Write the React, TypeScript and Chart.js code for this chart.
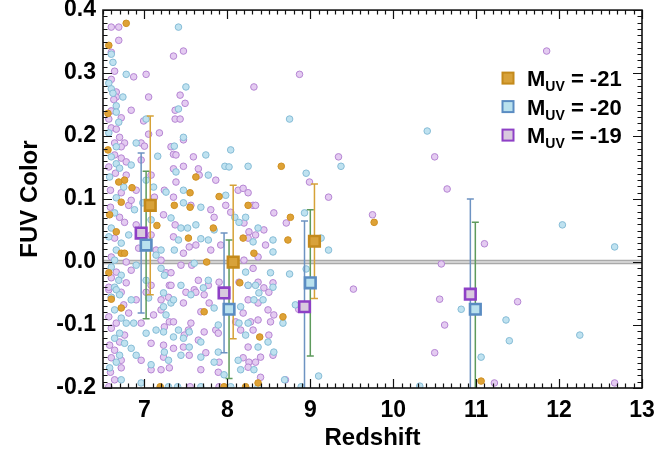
import { useEffect, useRef } from "react";
import { Chart, registerables } from "chart.js";

Chart.register(...registerables);

// Axis extents and tick labels
const xRange = [6.5, 13];
const yRange = [-0.2, 0.4];
const xTickLabels = [7, 8, 9, 10, 11, 12, 13];
const yTickLabels = [-0.2, -0.1, 0.0, 0.1, 0.2, 0.3, 0.4];
const zeroLevel = 0;

// Magnitude bins shown in the legend
const magnitudes = ["-21", "-20", "-19"];

// Individual galaxies: [redshift, FUV colour]
const galaxies21: [number, number][] = [
  [6.78, 0.379], [6.57, 0.344], [6.76, 0.13], [6.69, 0.127], [6.72, 0.095], [6.66, 0.048],
  [6.72, 0.014], [6.76, 0.014], [6.57, -0.017], [6.6, -0.059], [6.72, -0.073], [8.65, 0.152],
  [7.62, 0.135], [7.55, 0.11], [7.36, 0.09], [7.55, 0.087], [7.53, 0.038], [7.83, 0.054],
  [7.75, 0.0], [8.25, 0.09], [8.19, 0.038], [8.32, 0.014], [8.73, 0.035], [8.76, 0.071],
  [8.15, -0.033], [7.72, -0.079], [8.67, -0.087], [8.39, -0.119], [7.19, -0.198], [7.96, -0.198],
  [8.22, -0.198], [8.37, -0.192], [9.77, 0.063], [11.06, -0.189], [6.56, 0.236], [6.56, 0.178],
  [6.58, 0.075], [6.85, 0.118], [7.15, 0.058], [7.9, 0.104],
];

const galaxies20: [number, number][] = [
  [7.41, 0.373], [6.6, 0.33], [6.78, 0.298], [6.57, 0.284], [7.5, 0.278], [6.6, 0.275],
  [6.62, 0.268], [6.66, 0.248], [6.66, 0.238], [7.41, 0.243], [6.69, 0.222], [7.02, 0.227],
  [8.75, 0.227], [6.57, 0.205], [7.47, 0.198], [6.9, 0.189], [7.36, 0.184], [6.66, 0.183],
  [6.6, 0.167], [6.66, 0.156], [6.7, 0.149], [6.58, 0.135], [6.75, 0.119], [6.66, 0.102],
  [6.64, 0.078], [6.6, 0.054], [6.57, 0.04], [6.72, 0.03], [6.66, 0.019], [6.64, 0.003],
  [6.6, -0.008], [6.72, -0.021], [6.69, -0.029], [6.64, -0.04], [6.6, -0.056],
  [7.97, 0.152], [8.02, 0.151], [8.25, 0.152], [7.38, 0.143], [7.77, 0.138], [7.26, 0.111],
  [7.47, 0.114], [7.47, 0.094], [7.68, 0.087], [7.11, 0.119], [7.32, 0.07], [7.44, 0.054],
  [7.52, 0.054], [7.41, 0.035], [7.36, 0.019], [7.68, 0.037], [7.84, 0.051], [7.77, 0.035],
  [7.6, -0.002], [7.24, -0.021], [7.2, -0.01], [7.44, -0.037], [7.77, -0.029], [7.23, -0.049],
  [7.05, -0.057], [8.22, 0.071], [8.09, 0.071], [8.14, 0.063], [8.37, 0.054], [8.31, 0.032],
  [8.55, 0.016], [8.55, 0.035], [8.75, -0.019], [8.52, -0.017], [8.22, -0.016], [8.25, -0.037],
  [8.38, -0.049], [6.66, -0.044], [6.7, -0.052], [6.64, -0.076], [6.72, -0.089], [6.78, -0.097],
  [6.87, -0.097], [6.7, -0.113], [6.64, -0.121], [6.76, -0.129], [6.84, -0.137], [6.7, -0.148],
  [6.66, -0.159], [6.58, -0.168], [6.72, -0.187], [7.23, -0.071], [7.32, -0.065], [7.26, -0.084],
  [7.23, -0.111], [7.41, -0.108], [7.54, -0.111], [7.35, -0.119], [7.24, -0.143], [7.29, -0.156],
  [7.02, -0.113], [7.47, -0.121], [7.54, -0.135], [7.68, -0.127], [7.89, -0.1], [7.89, -0.143],
  [7.68, -0.151], [7.84, -0.159], [7.96, -0.179], [7.44, -0.148], [7.71, -0.041], [7.56, -0.052],
  [7.84, -0.073], [7.35, -0.06], [8.34, -0.037], [8.55, -0.04], [8.32, -0.06], [8.16, -0.071],
  [8.43, -0.06], [8.14, -0.097], [8.25, -0.097], [8.67, -0.097], [8.22, -0.116], [8.49, -0.127],
  [8.37, -0.135], [8.13, -0.156], [8.32, -0.171], [8.16, -0.171], [8.56, -0.143], [8.82, -0.068],
  [6.96, -0.192], [7.29, -0.198], [7.4, -0.198], [7.68, -0.198], [8.04, -0.198], [8.69, -0.187],
  [8.37, -0.198], [9.37, 0.152], [8.95, 0.141], [8.93, 0.078], [9.13, 0.038], [9.22, 0.019],
  [8.95, -0.011], [12.04, 0.059], [12.67, 0.024], [10.82, -0.075], [11.36, -0.092], [11.4, -0.125],
  [12.25, -0.116], [11.06, -0.151], [10.32, -0.197], [10.41, 0.208], [9.1, -0.181], [8.89, -0.198],
  [6.84, 0.154], [7.02, 0.13], [6.88, 0.083], [7.08, 0.067], [6.81, 0.043], [7.14, 0.011],
  [6.9, -0.005], [7.2, 0.019], [7.02, -0.029], [6.84, -0.06], [7.14, -0.108], [6.9, -0.148],
  [7.08, -0.163], [7.62, 0.059], [7.98, 0.106], [7.74, 0.17], [8.04, 0.178], [6.62, 0.317],
  [6.74, 0.262], [7.16, 0.168], [6.98, 0.094],
];

const galaxies19: [number, number][] = [
  [6.6, 0.373], [6.69, 0.373], [6.69, 0.352], [6.6, 0.333], [7.35, 0.327], [7.47, 0.335],
  [6.64, 0.303], [6.87, 0.294], [7.02, 0.298], [8.87, 0.298], [6.6, 0.29], [8.32, 0.278],
  [6.66, 0.27], [6.66, 0.262], [7.43, 0.265], [7.05, 0.262], [7.49, 0.252], [6.84, 0.241],
  [6.6, 0.24], [7.37, 0.241], [6.72, 0.229], [6.57, 0.227], [6.99, 0.224], [7.37, 0.227],
  [7.43, 0.227], [6.6, 0.213], [6.66, 0.211], [7.05, 0.203], [7.47, 0.194], [6.64, 0.189],
  [6.76, 0.189], [6.96, 0.189], [7.0, 0.184], [6.72, 0.183], [7.32, 0.183],
  [6.64, 0.17], [6.72, 0.165], [6.78, 0.159], [6.57, 0.151], [6.65, 0.141], [6.78, 0.138],
  [6.59, 0.114], [6.72, 0.11], [6.81, 0.09], [6.59, 0.087], [6.7, 0.071], [6.76, 0.063],
  [6.64, 0.038], [6.6, 0.008], [6.78, 0.0], [6.66, -0.016], [6.6, -0.025], [6.78, -0.033],
  [6.57, -0.044], [6.72, -0.048], [7.35, 0.171], [7.38, 0.17], [7.59, 0.167], [7.47, 0.152],
  [7.35, 0.148], [7.65, 0.148], [7.66, 0.138], [7.24, 0.114], [7.38, 0.127], [7.35, 0.103],
  [7.56, 0.09], [6.9, 0.114], [7.12, 0.103], [7.23, 0.075], [7.37, 0.059], [7.35, 0.04],
  [7.54, 0.024], [7.47, 0.014], [7.84, 0.071], [7.8, 0.083], [7.8, 0.019], [7.57, -0.005],
  [7.26, -0.017], [7.32, -0.017], [7.3, -0.037], [7.6, -0.044], [7.65, -0.029], [7.02, -0.048],
  [8.13, 0.114], [8.19, 0.117], [8.25, 0.11], [8.31, 0.09], [8.34, 0.09], [8.04, 0.079],
  [8.2, 0.062], [8.26, 0.048], [8.44, 0.051], [8.25, 0.038], [8.34, 0.043], [8.46, 0.027],
  [8.37, 0.008], [8.56, 0.078], [8.71, 0.062], [8.31, -0.01], [8.14, -0.032], [8.37, -0.032],
  [8.44, -0.041], [8.5, -0.048], [8.2, 0.003], [7.9, -0.032], [6.57, -0.04], [6.6, -0.056],
  [6.75, -0.068], [6.81, -0.081], [6.57, -0.087], [6.66, -0.097], [6.6, -0.105], [6.76, -0.116],
  [6.7, -0.127], [6.58, -0.132], [6.64, -0.14], [6.6, -0.152], [6.72, -0.156], [6.72, -0.168],
  [6.64, -0.187], [6.57, -0.198], [7.2, -0.06], [7.29, -0.056], [7.2, -0.076], [7.3, -0.095],
  [7.24, -0.103], [7.35, -0.095], [7.53, -0.108], [7.56, -0.097], [7.48, -0.116], [7.23, -0.132],
  [7.23, -0.151], [7.2, -0.171], [7.3, -0.168], [6.96, -0.097], [7.08, -0.129], [7.47, -0.135],
  [7.35, -0.137], [7.65, -0.124], [7.72, -0.111], [7.86, -0.108], [7.89, -0.113], [7.74, -0.144],
  [7.9, -0.159], [7.89, -0.175], [7.68, -0.171], [7.54, -0.148], [7.32, -0.037], [7.5, -0.048],
  [7.77, -0.037], [7.72, -0.052], [7.62, -0.048], [7.68, -0.079], [7.78, -0.065], [7.47, -0.065],
  [8.25, -0.037], [8.55, -0.033], [8.25, -0.06], [8.37, -0.065], [8.19, -0.081], [8.49, -0.076],
  [8.1, -0.095], [8.28, -0.095], [8.37, -0.092], [8.56, -0.084], [8.52, -0.095], [8.16, -0.108],
  [8.31, -0.108], [8.5, -0.116], [8.25, -0.135], [8.19, -0.152], [8.26, -0.159], [8.34, -0.159],
  [8.4, -0.151], [8.25, -0.167], [8.4, -0.183], [8.55, -0.148], [8.86, -0.075], [7.55, -0.198],
  [7.9, -0.198], [6.59, -0.175], [8.7, -0.187], [9.34, 0.167], [10.5, 0.167], [10.65, 0.116],
  [8.99, 0.127], [9.22, 0.103], [9.75, 0.075], [10.58, -0.003], [9.52, -0.043], [11.1, 0.029],
  [10.56, -0.059], [11.5, -0.063], [10.62, -0.1], [10.5, -0.144], [11.22, -0.192], [12.67, -0.192],
  [11.85, 0.335], [6.96, 0.162], [7.08, 0.138], [6.84, 0.098], [6.9, 0.059], [7.08, 0.043],
  [7.14, 0.019], [7.2, 0.003], [7.44, -0.005], [6.84, -0.013], [7.08, -0.037], [6.9, -0.06],
  [7.11, -0.084], [6.96, -0.156], [7.08, -0.171], [7.62, 0.027], [7.92, 0.027], [7.98, 0.09],
  [7.86, 0.13], [6.63, 0.258], [6.7, 0.198], [7.18, 0.205], [6.93, 0.022],
];

// Binned means: [redshift, mean colour, error]
const binned21: [number, number, number][] = [
  [7.07, 0.09, 0.142], [8.07, 0.0, 0.122], [9.05, 0.033, 0.091],
];
const binned20: [number, number, number][] = [
  [7.02, 0.027, 0.117], [8.02, -0.075, 0.11], [9.0, -0.033, 0.116], [10.99, -0.075, 0.138],
];
const binned19: [number, number, number][] = [
  [6.96, 0.046, 0.127], [7.96, -0.049, 0.095], [8.93, -0.071, 0.136], [10.93, -0.051, 0.151],
];

const FONT = '"Liberation Sans", Arial, Helvetica, sans-serif';

const styles = [
  { dotFill: "#dea236", dotEdge: "#cf9022", boxFill: "#d8a23a", boxEdge: "#c48a1c", bar: "#d6a237" },
  { dotFill: "#bfe2f0", dotEdge: "#86bcd6", boxFill: "#b9e1ee", boxEdge: "#5a8cc2", bar: "#5e9a5c" },
  { dotFill: "#e4cbf1", dotEdge: "#b585d3", boxFill: "#d9cade", boxEdge: "#8e40c6", bar: "#6d93c2" },
];

const toXY = (arr: [number, number][] | [number, number, number][]) =>
  arr.map((p) => ({ x: p[0], y: p[1] }));

export default function App() {
  const canvasRef = useRef<HTMLCanvasElement | null>(null);

  useEffect(() => {
    const canvas = canvasRef.current;
    if (!canvas) return;

    const binnedAll = [binned21, binned20, binned19];
    const galaxiesAll = [galaxies21, galaxies20, galaxies19];

    const errorBars = {
      id: "errorBars",
      beforeDatasetDraw(chart: any, args: any) {
        const ds = chart.data.datasets[args.index];
        if (ds.key !== "box19") return;
        const { ctx, chartArea: a, scales } = chart;
        const xs = scales.x;
        const ys = scales.y;
        ctx.save();
        ctx.beginPath();
        ctx.rect(a.left, a.top, a.right - a.left, a.bottom - a.top);
        ctx.clip();
        ctx.lineWidth = 1.5;
        [2, 1, 0].forEach((s) => {
          ctx.strokeStyle = styles[s].bar;
          binnedAll[s].forEach(([z, c, e]) => {
            const px = xs.getPixelForValue(z);
            const y1 = ys.getPixelForValue(c + e);
            const y2 = ys.getPixelForValue(c - e);
            ctx.beginPath();
            ctx.moveTo(px, y1);
            ctx.lineTo(px, y2);
            ctx.moveTo(px - 3.5, y1);
            ctx.lineTo(px + 3.5, y1);
            ctx.moveTo(px - 3.5, y2);
            ctx.lineTo(px + 3.5, y2);
            ctx.stroke();
          });
        });
        ctx.restore();
      },
    };

    const frame = {
      id: "frame",
      afterDraw(chart: any) {
        const { ctx, chartArea: a, scales } = chart;
        const xs = scales.x;
        const ys = scales.y;
        ctx.save();
        ctx.strokeStyle = "#111";
        ctx.lineWidth = 1.2;
        ctx.beginPath();
        // inward ticks on all four sides
        for (let i = Math.ceil(xRange[0] * 10); i <= Math.floor(xRange[1] * 10); i++) {
          const px = Math.round(xs.getPixelForValue(i / 10)) + 0.5;
          const len = i % 10 === 0 ? 9 : 4.5;
          ctx.moveTo(px, a.bottom);
          ctx.lineTo(px, a.bottom - len);
          ctx.moveTo(px, a.top);
          ctx.lineTo(px, a.top + len);
        }
        for (let i = Math.ceil(yRange[0] * 100); i <= Math.floor(yRange[1] * 100); i++) {
          const py = Math.round(ys.getPixelForValue(i / 100)) + 0.5;
          const len = i % 10 === 0 ? 9 : 4.5;
          ctx.moveTo(a.left, py);
          ctx.lineTo(a.left + len, py);
          ctx.moveTo(a.right, py);
          ctx.lineTo(a.right - len, py);
        }
        ctx.stroke();
        ctx.lineWidth = 1.6;
        ctx.strokeRect(a.left, a.top, a.right - a.left, a.bottom - a.top);

        // tick labels
        ctx.fillStyle = "#000";
        ctx.font = `bold 23px ${FONT}`;
        ctx.textAlign = "center";
        ctx.textBaseline = "middle";
        xTickLabels.forEach((v) => {
          ctx.fillText(String(v), xs.getPixelForValue(v), a.bottom + 23);
        });
        ctx.textAlign = "right";
        yTickLabels.forEach((v) => {
          ctx.fillText(v.toFixed(1), a.left - 7, ys.getPixelForValue(v));
        });

        // axis titles
        ctx.font = `bold 24px ${FONT}`;
        ctx.textAlign = "center";
        ctx.fillText("Redshift", (a.left + a.right) / 2, a.bottom + 50);
        ctx.save();
        ctx.translate(30, (a.top + a.bottom) / 2);
        ctx.rotate(-Math.PI / 2);
        ctx.fillText("FUV Color", 0, 0);
        ctx.restore();

        // legend with subscripted labels
        magnitudes.forEach((m, i) => {
          const cy = a.top + 68 + i * 28.5;
          const cx = a.right - 134;
          ctx.fillStyle = styles[i].boxFill;
          ctx.strokeStyle = styles[i].boxEdge;
          ctx.lineWidth = 2;
          ctx.fillRect(cx - 5.5, cy - 5.5, 11, 11);
          ctx.strokeRect(cx - 5.5, cy - 5.5, 11, 11);
          ctx.fillStyle = "#000";
          ctx.textAlign = "left";
          ctx.textBaseline = "alphabetic";
          let tx = a.right - 115;
          const base = cy + 8;
          ctx.font = `bold 22px ${FONT}`;
          ctx.fillText("M", tx, base);
          tx += ctx.measureText("M").width;
          ctx.font = `bold 14px ${FONT}`;
          ctx.fillText("UV", tx, base + 5);
          tx += ctx.measureText("UV").width;
          ctx.font = `bold 22px ${FONT}`;
          ctx.fillText(" = " + m, tx, base);
        });
        ctx.restore();
      },
    };

    const scatterSets = galaxiesAll.map((g, i) => ({
      key: "dots" + magnitudes[i].slice(1),
      data: toXY(g),
      pointRadius: 3.3,
      pointBorderWidth: 1,
      backgroundColor: styles[i].dotFill,
      borderColor: styles[i].dotEdge,
      order: 6 + i,
    }));

    const boxSets = binnedAll.map((b, i) => ({
      key: "box" + magnitudes[i].slice(1),
      data: toXY(b),
      pointStyle: "rect",
      pointRadius: 7.5,
      pointBorderWidth: 2.6,
      backgroundColor: styles[i].boxFill,
      borderColor: styles[i].boxEdge,
      order: 1 + i,
    }));

    const zeroLine = [xRange[0], xRange[1]].map((x) => ({ x, y: zeroLevel }));

    const chart = new Chart(canvas, {
      type: "scatter",
      data: {
        datasets: [
          ...boxSets,
          ...scatterSets,
          {
            key: "zeroInner",
            type: "line",
            data: zeroLine,
            borderColor: "#d2d2d2",
            borderWidth: 2,
            pointRadius: 0,
            order: 19,
          },
          {
            key: "zeroOuter",
            type: "line",
            data: zeroLine,
            borderColor: "#a9a9a9",
            borderWidth: 4.5,
            pointRadius: 0,
            order: 20,
          },
        ] as any,
      },
      options: {
        animation: false,
        responsive: false,
        devicePixelRatio: 1,
        layout: { padding: { left: 0, top: 10, right: 28, bottom: 0 } },
        plugins: { legend: { display: false }, tooltip: { enabled: false } },
        scales: {
          x: {
            type: "linear",
            min: xRange[0],
            max: xRange[1],
            grid: { display: false },
            border: { display: false },
            ticks: { display: false },
            afterFit: (s: any) => {
              s.height = 68;
            },
          },
          y: {
            type: "linear",
            min: yRange[0],
            max: yRange[1],
            grid: { display: false },
            border: { display: false },
            ticks: { display: false },
            afterFit: (s: any) => {
              s.width = 103;
            },
          },
        },
      } as any,
      plugins: [errorBars, frame],
    });

    return () => chart.destroy();
  }, []);

  return (
    <div style={{ position: "fixed", left: 0, top: 0, width: 670, height: 456, background: "#fff" }}>
      <canvas ref={canvasRef} width={670} height={456} />
    </div>
  );
}
